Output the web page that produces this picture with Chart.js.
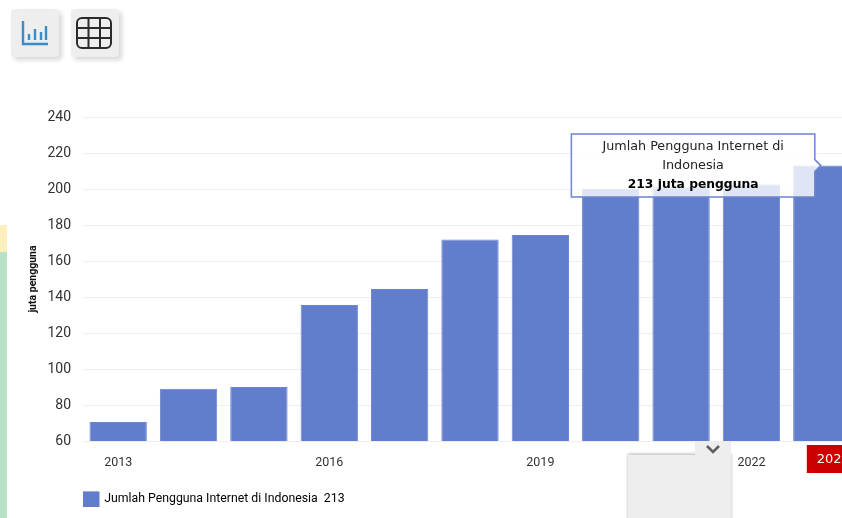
<!DOCTYPE html>
<html>
<head>
<meta charset="utf-8">
<title>Jumlah Pengguna Internet di Indonesia</title>
<script src="https://cdn.jsdelivr.net/npm/chart.js@4"></script>
<style>
  html, body { margin: 0; padding: 0; background: #fff; }
  body { position: relative; width: 842px; height: 518px; overflow: hidden; }
  #users { position: absolute; left: 0; top: 0; }
  .btn { position: absolute; top: 9px; width: 48px; height: 48px; background: #eee; border-radius: 4px; box-shadow: 3px 3px 5px rgba(0,0,0,0.16); }
  .btn svg { position: absolute; left: 0; top: 0; }
  .strip { position: absolute; left: 0; width: 7px; }
  #panel { position: absolute; left: 628px; top: 455px; width: 103px; height: 90px; background: #eee; box-shadow: 0 -1px 3px rgba(0,0,0,0.3); }
  #tab { position: absolute; left: 695px; top: 441px; width: 36px; height: 20px; background: #eee; }
  #tab svg { position: absolute; left: 0; top: 0; }
</style>
</head>
<body>
<canvas id="users" width="860" height="518"></canvas>

<div class="strip" style="top:225px;height:27px;background:#fdeebd"></div>
<div class="strip" style="top:252px;height:266px;background:#b8e2c8"></div>

<div class="btn" style="left:11px">
  <svg width="48" height="48" fill="none" stroke="#3a8dc9">
    <path d="M12 12V35H37" stroke-width="2.4"/>
    <path d="M18 25V31M24 20V31M30 23V31M35 17V31" stroke-width="2.4"/>
  </svg>
</div>
<div class="btn" style="left:71px">
  <svg width="48" height="48" fill="none" stroke="#2b2b2b" stroke-width="2">
    <rect x="6" y="9" width="34" height="30" rx="5"/>
    <path d="M17.5 9V39M29 9V39M6 19H40M6 29H40"/>
  </svg>
</div>

<div id="panel"></div>
<div id="tab">
  <svg width="36" height="20" fill="none" stroke="#5f5f5f" stroke-width="2.6"><path d="M12 5L18 11L24 5"/></svg>
</div>

<script>
const years = ['2013', '2014', '2015', '2016', '2017', '2018', '2019', '2020', '2021', '2022', '2023'];
const users = [70.5, 89, 90, 135.5, 144.5, 172, 174.5, 200, 201, 202.5, 213];
const yearTicks = ['2013', '2016', '2019', '2022'];
const seriesName = 'Jumlah Pengguna Internet di Indonesia';
const titleLines = ['Jumlah Pengguna Internet di', 'Indonesia'];
const unit = 'juta pengguna';
const activeIndex = years.length - 1;

// red year flag under the selected bar
const yearFlag = {
  id: 'yearFlag',
  afterDraw(chart) {
    const ctx = chart.ctx;
    const x = chart.scales.x.getPixelForValue(activeIndex) - 15;
    ctx.save();
    ctx.fillStyle = '#cc0000';
    ctx.fillRect(x, 445, 50, 28);
    ctx.fillStyle = '#fff';
    ctx.font = '13px "DejaVu Sans"';
    ctx.textBaseline = 'middle';
    ctx.fillText(years[activeIndex], x + 10, 460);
    ctx.restore();
  }
};

const usersChart = new Chart(document.getElementById('users'), {
  type: 'bar',
  data: {
    labels: years,
    datasets: [{
      label: seriesName,
      data: users,
      backgroundColor: '#617dcc',
      borderColor: '#6b85d0',
      borderWidth: 1,
      barPercentage: 0.815,
      categoryPercentage: 1
    }]
  },
  plugins: [yearFlag],
  options: {
    responsive: false,
    animation: false,
    events: [],
    layout: { padding: { left: 27, top: 117, right: 3, bottom: 2.5 } },
    plugins: {
      legend: {
        position: 'bottom',
        align: 'start',
        fullSize: false,
        labels: {
          // the thick stroke widens the swatch without moving the text
          boxWidth: 15,
          boxHeight: 14,
          padding: 0,
          color: '#333',
          font: { family: 'Roboto', size: 12.3, lineHeight: 1.5 },
          generateLabels: function (chart) {
            return [{
              text: seriesName + '  ' + users[activeIndex],
              fillStyle: '#617dcc',
              strokeStyle: '#617dcc',
              lineWidth: 3,
              datasetIndex: 0
            }];
          }
        }
      },
      tooltip: {
        position: 'nearest',
        xAlign: 'right',
        yAlign: 'center',
        backgroundColor: 'rgba(255,255,255,0.8)',
        borderColor: '#6d84cf',
        borderWidth: 1.5,
        cornerRadius: 0,
        caretSize: 6,
        caretPadding: 1,
        displayColors: false,
        padding: { x: 31, y: 3 },
        titleAlign: 'center',
        bodyAlign: 'center',
        titleColor: '#222',
        bodyColor: '#000',
        titleFont: { family: 'DejaVu Sans', size: 12.75, weight: 'normal', lineHeight: '19px' },
        bodyFont: { family: 'DejaVu Sans', size: 12.3, weight: 'bold', lineHeight: '19px' },
        titleSpacing: 0,
        titleMarginBottom: 0,
        callbacks: {
          title: function () { return titleLines; },
          label: function (item) { return item.raw + ' ' + unit; }
        }
      }
    },
    scales: {
      x: {
        afterFit: function (scale) { scale.height = 50.5; },
        grid: { display: false, drawTicks: false },
        border: { display: false },
        ticks: {
          autoSkip: false,
          maxRotation: 0,
          padding: 14,
          color: '#333',
          font: { family: 'Roboto', size: 12.5 },
          callback: function (value) {
            const year = this.getLabelForValue(value);
            return yearTicks.includes(year) ? year : '';
          }
        }
      },
      y: {
        min: 60,
        max: 240,
        afterFit: function (scale) { scale.width = 56; },
        grid: { color: '#eeeeee', drawTicks: false },
        border: { display: false },
        ticks: {
          stepSize: 20,
          padding: 12,
          color: '#333',
          font: { family: 'Roboto', size: 14 }
        },
        title: {
          display: true,
          text: unit,
          color: '#111',
          padding: 0,
          font: { family: 'Roboto', size: 10.5, weight: 'bold' }
        }
      }
    }
  }
});

usersChart.tooltip.setActiveElements([{ datasetIndex: 0, index: activeIndex }], { x: 0, y: 0 });
usersChart.update();
</script>
</body>
</html>
